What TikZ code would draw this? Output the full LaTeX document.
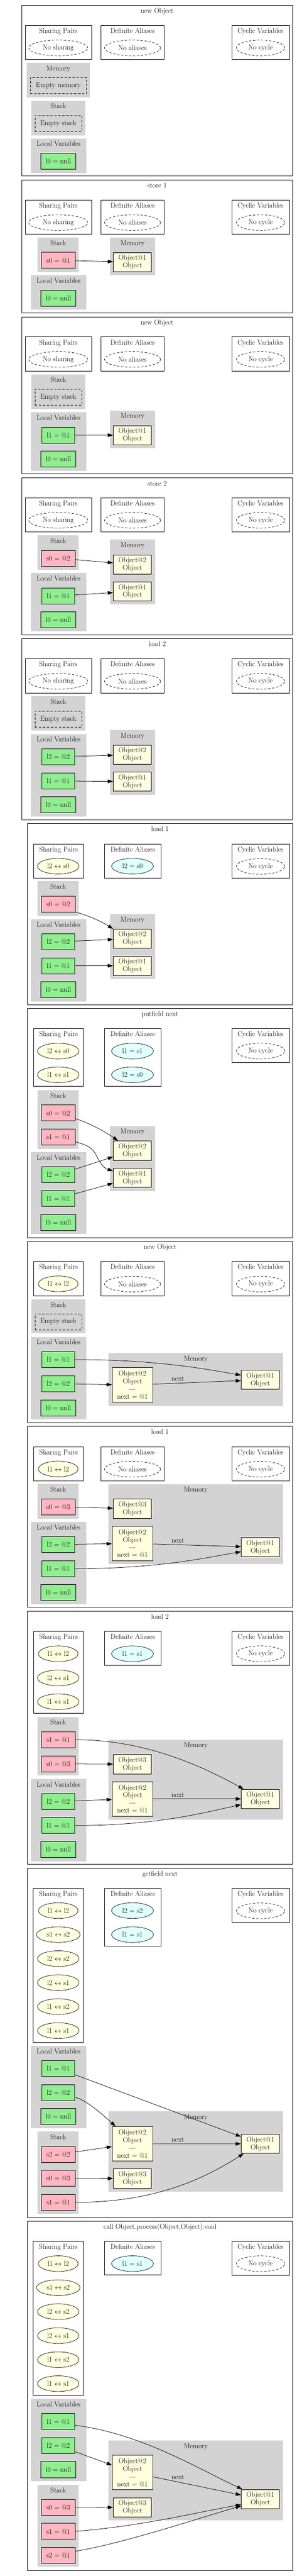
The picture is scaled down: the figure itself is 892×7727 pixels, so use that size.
\documentclass[tikz,border=0pt]{standalone}
\usepackage{fontspec}
\usetikzlibrary{shapes.geometric,arrows.meta}
\definecolor{lgray}{HTML}{D3D3D3}
\definecolor{lgreen}{HTML}{90EE90}
\definecolor{lpink}{HTML}{FFB6C1}
\definecolor{lyel}{HTML}{FFFFE0}
\definecolor{lcyan}{HTML}{E0FFFF}
\tikzset{
  base/.style={font=\fontsize{21.5}{23}\selectfont, inner sep=0pt},
  ttl/.style={base},
  lbl/.style={base},
  frm/.style={draw=black, line width=1.2pt},
  wbox/.style={draw=black, line width=1.2pt},
  gv/.style={base, draw=black, line width=1.2pt, fill=lgreen, minimum width=99, minimum height=48},
  gvn/.style={gv, minimum width=104},
  sv/.style={base, draw=black, line width=1.2pt, fill=lpink, minimum width=102.4, minimum height=48},
  ob/.style={base, draw=black, line width=1.2pt, fill=lyel, minimum width=115, minimum height=57.5, align=center},
  obn/.style={ob, minimum width=122.3, minimum height=103.5},
  shp/.style={base, ellipse, draw=black, line width=1.1pt, fill=lyel, minimum width=125, minimum height=47},
  ali/.style={base, ellipse, draw=black, line width=1.1pt, fill=lcyan, minimum width=125.7, minimum height=47},
  none/.style={base, ellipse, draw=black, line width=1.1pt, dash pattern=on 7pt off 5pt, minimum height=47},
  emp/.style={base, draw=black, line width=1.1pt, dash pattern=on 7pt off 5pt, minimum height=48},
  arr/.style={-{Triangle[length=16pt,width=11pt]}, line width=1.2pt},
}
\newcommand{\pFrame}[5]{%
  \draw[frm] (#2,{#3}) rectangle (880,{#4});
  \node[ttl,anchor=base] (#1) at ({(#2+880)/2},{#3+23.4}) {#5};}
\newcommand{\wBox}[6]{%
  \draw[wbox] (#2,{#3}) rectangle (#4,{#5});
  \node[ttl,anchor=base] (#1) at ({(#2+#4)/2},{#3+23.4}) {#6};}
\newcommand{\gBox}[6]{%
  \fill[lgray] (#2,{#3}) rectangle (#4,{#5});
  \node[ttl,anchor=base] (#1) at ({(#2+#4)/2},{#3+23.4}) {#6};}
\newcommand{\noShare}[2]{%
  \wBox{#1spT}{75.7}{#2}{275}{#2+102.7}{Sharing Pairs}
  \node[none,minimum width=177.7] (#1sp) at (175.2,{#2+67.7}) {No sharing};}
\newcommand{\noAli}[2]{%
  \wBox{#1daT}{304}{#2}{493.3}{#2+102.7}{Definite Aliases}
  \node[none,minimum width=168.7] (#1da) at (398.6,{#2+67.7}) {No aliases};}
\newcommand{\noCyc}[2]{%
  \wBox{#1cvT}{697}{#2}{870}{#2+102.7}{Cyclic Variables}
  \node[none,minimum width=145] (#1cv) at (783.5,{#2+67.7}) {No cycle};}
\newcommand{\lra}{$\leftrightarrow$}
\begin{document}
\begin{tikzpicture}[x=1pt,y=-1pt]
\useasboundingbox (0,0) rectangle (892,7727);

% ---------------- Panel 1
\pFrame{p1t}{65}{15.7}{528}{new Object}
\noShare{p1}{76}\noAli{p1}{76}\noCyc{p1}{76}
\gBox{p1memT}{80.3}{188.7}{270.7}{292.3}{Memory}
\node[emp,minimum width=169] (p1em) at (175.5,256.9) {Empty memory};
\gBox{p1stT}{94.3}{302.3}{256.7}{405.7}{Stack}
\node[emp,minimum width=140.7] (p1es) at (175.3,370.7) {Empty stack};
\gBox{p1lvT}{93}{415.3}{259.3}{519}{Local Variables}
\node[gvn] (p1l0) at (175.3,483.75) {l0 = null};

% ---------------- Panel 2
\pFrame{p2t}{65}{540.2}{938.6}{store 1}
\noShare{p2}{600}\noAli{p2}{600}\noCyc{p2}{600}
\gBox{p2stT}{113.2}{712.7}{237.2}{815.9}{Stack}
\node[sv] (p2s0) at (175.2,780.8) {s0 = @1};
\gBox{p2memT}{330}{712.7}{467}{825}{Memory}
\node[ob] (p2o1) at (398.2,786.3) {Object@1\\Object};
\gBox{p2lvT}{93}{825.7}{259.3}{929.5}{Local Variables}
\node[gvn] (p2l0) at (175.3,894.5) {l0 = null};
\draw[arr] (p2s0) -- (p2o1);

% ---------------- Panel 3
\pFrame{p3t}{65}{950.5}{1421.4}{new Object}
\noShare{p3}{1010.5}\noAli{p3}{1010.5}\noCyc{p3}{1010.5}
\gBox{p3stT}{94.3}{1123.2}{256.7}{1226.8}{Stack}
\node[emp,minimum width=140.7] (p3es) at (175.3,1191.5) {Empty stack};
\gBox{p3lvT}{93}{1236.6}{259.3}{1412.5}{Local Variables}
\node[gv] (p3l1) at (175.2,1305.5) {l1 = @1};
\node[gvn] (p3l0) at (175.3,1377) {l0 = null};
\gBox{p3memT}{330}{1231.25}{467}{1343.75}{Memory}
\node[ob] (p3o1) at (398.2,1305.4) {Object@1\\Object};
\draw[arr] (p3l1) -- (p3o1);

% ---------------- Panel 4
\pFrame{p4t}{65}{1433.9}{1904.5}{store 2}
\noShare{p4}{1493}\noAli{p4}{1493}\noCyc{p4}{1493}
\gBox{p4stT}{113.2}{1606.25}{237.2}{1709}{Stack}
\node[sv] (p4s0) at (175.2,1674.5) {s0 = @2};
\gBox{p4lvT}{93}{1718.75}{259.3}{1893.75}{Local Variables}
\node[gv] (p4l1) at (175.2,1787.5) {l1 = @1};
\node[gvn] (p4l0) at (175.3,1859.4) {l0 = null};
\gBox{p4memT}{330}{1618.75}{467}{1813.4}{Memory}
\node[ob] (p4o2) at (398.2,1693.3) {Object@2\\Object};
\node[ob] (p4o1) at (398.2,1774.1) {Object@1\\Object};
\draw[arr] (p4s0) -- (p4o2);
\draw[arr] (p4l1) -- (p4o1);

% ---------------- Panel 5
\pFrame{p5t}{65}{1916}{2459.8}{load 2}
\noShare{p5}{1976}\noAli{p5}{1976}\noCyc{p5}{1976}
\gBox{p5stT}{94.3}{2088.4}{256.7}{2192}{Stack}
\node[emp,minimum width=140.7] (p5es) at (175.3,2157) {Empty stack};
\gBox{p5lvT}{93}{2201.8}{259.3}{2449}{Local Variables}
\node[gv] (p5l2) at (175.2,2270) {l2 = @2};
\node[gv] (p5l1) at (175.2,2342.4) {l1 = @1};
\node[gvn] (p5l0) at (175.3,2414.2) {l0 = null};
\gBox{p5memT}{330}{2190}{467}{2384}{Memory}
\node[ob] (p5o2) at (398.2,2263.9) {Object@2\\Object};
\node[ob] (p5o1) at (398.2,2344.5) {Object@1\\Object};
\draw[arr] (p5l2) -- (p5o2);
\draw[arr] (p5l1) -- (p5o1);

% ---------------- Panel 6
\pFrame{p6t}{82.5}{2470.5}{3014.3}{load 1}
\wBox{p6spT}{100.7}{2531.25}{251.4}{2634}{Sharing Pairs}
\node[shp] (p6sp1) at (175.2,2598.2) {l2 \lra{} s0};
\wBox{p6daT}{314.6}{2531.25}{484}{2634}{Definite Aliases}
\node[ali] (p6da1) at (398.5,2598.2) {l2 = s0};
\noCyc{p6}{2531.25}
\gBox{p6stT}{113.2}{2642.9}{237.2}{2747.3}{Stack}
\node[sv] (p6s0) at (175.2,2711.6) {s0 = @2};
\gBox{p6lvT}{93}{2757}{259.3}{3004.5}{Local Variables}
\node[gv] (p6l2) at (175.2,2824.6) {l2 = @2};
\node[gv] (p6l1) at (175.2,2896.9) {l1 = @1};
\node[gvn] (p6l0) at (175.3,2968.3) {l0 = null};
\gBox{p6memT}{330}{2742}{467}{2935.7}{Memory}
\node[ob] (p6o2) at (398.2,2815.6) {Object@2\\Object};
\node[ob] (p6o1) at (398.2,2896.9) {Object@1\\Object};
\draw[arr] (p6s0.south east) .. controls +(38,9) and +(-35,-22) .. (p6o2.north west);
\draw[arr] (p6l2) -- (p6o2);
\draw[arr] (p6l1) -- (p6o1);

% ---------------- Panel 7
\pFrame{p7t}{82.5}{3025}{3712.5}{putfield next}
\wBox{p7spT}{100.7}{3084.8}{251.4}{3259}{Sharing Pairs}
\node[shp] (p7sp1) at (175.2,3152.7) {l2 \lra{} s0};
\node[shp] (p7sp2) at (175.2,3224) {l1 \lra{} s1};
\wBox{p7daT}{314.6}{3084.8}{484}{3259}{Definite Aliases}
\node[ali] (p7da1) at (398.5,3152.7) {l1 = s1};
\node[ali] (p7da2) at (398.5,3224) {l2 = s0};
\noCyc{p7}{3084.8}
\gBox{p7stT}{113.2}{3270}{237.2}{3445.5}{Stack}
\node[sv] (p7s0) at (175.2,3338.5) {s0 = @2};
\node[sv] (p7s1) at (175.2,3410) {s1 = @1};
\gBox{p7lvT}{93}{3455.4}{259.3}{3701.8}{Local Variables}
\node[gv] (p7l2) at (175.2,3523.5) {l2 = @2};
\node[gv] (p7l1) at (175.2,3595) {l1 = @1};
\node[gvn] (p7l0) at (175.3,3667.4) {l0 = null};
\gBox{p7memT}{330}{3377.7}{467}{3572.3}{Memory}
\node[ob] (p7o2) at (398.2,3451.3) {Object@2\\Object};
\node[ob] (p7o1) at (398.2,3533) {Object@1\\Object};
\draw[arr] ([yshift=-17pt]p7s0.east) .. controls +(40,12) and +(-35,-25) .. ([xshift=15pt]p7o2.north west);
\draw[arr] ([yshift=-15pt]p7s1.east) .. controls +(35,10) and +(-12,-22) .. (288,3463) .. controls +(12,22) and +(-30,-8) .. ([yshift=21pt]p7o1.west);
\draw[arr] (p7l2) -- (p7o2);
\draw[arr] (p7l1) -- (p7o1);

% ---------------- Panel 8
\pFrame{p8t}{82.5}{3724}{4268}{new Object}
\wBox{p8spT}{100.7}{3784}{251.4}{3886.7}{Sharing Pairs}
\node[shp,minimum width=119.5] (p8sp1) at (175.2,3851) {l1 \lra{} l2};
\noAli{p8}{3784}\noCyc{p8}{3784}
\gBox{p8stT}{94.3}{3897.3}{256.7}{4000}{Stack}
\node[emp,minimum width=140.7] (p8es) at (175.3,3964.7) {Empty stack};
\gBox{p8lvT}{93}{4009.8}{259.3}{4257}{Local Variables}
\node[gv] (p8l1) at (175.2,4078.2) {l1 = @1};
\node[gv] (p8l2) at (175.2,4150.4) {l2 = @2};
\node[gvn] (p8l0) at (175.3,4222.7) {l0 = null};
\gBox{p8memT}{326}{4058}{851.5}{4217}{Memory}
\node[obn] (p8o2) at (398.5,4154.5) {Object@2\\Object\\-{}-{}-\\next = @1};
\node[ob] (p8o1) at (783,4138.9) {Object@1\\Object};
\draw[arr] (p8l1.east) .. controls +(250,0) and +(-100,-17) .. ([yshift=14pt]p8o1.west);
\draw[arr] (p8l2) -- (p8o2);
\draw[arr] (p8o2) -- (p8o1);
\node[lbl] (p8nx) at (534.7,4136.6) {next};

% ---------------- Panel 9
\pFrame{p9t}{82.5}{4278.6}{4821.4}{load 1}
\wBox{p9spT}{100.7}{4339.3}{251.4}{4442}{Sharing Pairs}
\node[shp,minimum width=119.5] (p9sp1) at (175.2,4406.25) {l1 \lra{} l2};
\noAli{p9}{4339.3}\noCyc{p9}{4339.3}
\gBox{p9stT}{113.2}{4451}{237.2}{4555.4}{Stack}
\node[sv] (p9s0) at (175.2,4519.6) {s0 = @3};
\gBox{p9lvT}{93}{4565.2}{259.3}{4812.5}{Local Variables}
\node[gv] (p9l2) at (175.2,4633) {l2 = @2};
\node[gv] (p9l1) at (175.2,4705.4) {l1 = @1};
\node[gvn] (p9l0) at (175.3,4776.9) {l0 = null};
\gBox{p9memT}{326}{4451.8}{851.5}{4692}{Memory}
\node[ob] (p9o3) at (398.2,4525.5) {Object@3\\Object};
\node[obn] (p9o2) at (398.5,4629.5) {Object@2\\Object\\-{}-{}-\\next = @1};
\node[ob] (p9o1) at (783,4641) {Object@1\\Object};
\draw[arr] (p9s0) -- (p9o3);
\draw[arr] (p9l2) -- (p9o2);
\draw[arr] (p9o2) -- (p9o1);
\node[lbl] (p9nx) at (534.7,4621.4) {next};
\draw[arr] (p9l1.east) .. controls +(250,0) and +(-100,17) .. ([yshift=-13.5pt]p9o1.west);

% ---------------- Panel 10
\pFrame{p10t}{82.5}{4833}{5592.5}{load 2}
\wBox{p10spT}{100.7}{4892.9}{251.4}{5138.7}{Sharing Pairs}
\node[shp,minimum width=119.5] (p10sp1) at (175.2,4960.7) {l1 \lra{} l2};
\node[shp] (p10sp2) at (175.2,5033) {l2 \lra{} s1};
\node[shp] (p10sp3) at (175.2,5104.5) {l1 \lra{} s1};
\wBox{p10daT}{314.6}{4892.9}{484}{4995.5}{Definite Aliases}
\node[ali] (p10da1) at (398.5,4960.7) {l1 = s1};
\noCyc{p10}{4892.9}
\gBox{p10stT}{113.2}{5150}{237.2}{5325.6}{Stack}
\node[sv] (p10s1) at (175.2,5218.4) {s1 = @1};
\node[sv] (p10s0) at (175.2,5290.7) {s0 = @3};
\gBox{p10lvT}{93}{5336}{259.3}{5583}{Local Variables}
\node[gv] (p10l2) at (175.2,5403.4) {l2 = @2};
\node[gv] (p10l1) at (175.2,5475.8) {l1 = @1};
\node[gvn] (p10l0) at (175.3,5547.3) {l0 = null};
\gBox{p10memT}{326}{5218}{851.5}{5458}{Memory}
\node[ob] (p10o3) at (398.2,5292) {Object@3\\Object};
\node[obn] (p10o2) at (398.5,5395.8) {Object@2\\Object\\-{}-{}-\\next = @1};
\node[ob] (p10o1) at (783,5395.8) {Object@1\\Object};
\draw[arr] (p10s1.east) .. controls +(220,0) and +(-110,-60) .. ([xshift=8pt]p10o1.north west);
\draw[arr] (p10s0) -- (p10o3);
\draw[arr] (p10l2) -- (p10o2);
\draw[arr] (p10o2) -- (p10o1);
\node[lbl] (p10nx) at (534.7,5385) {next};
\draw[arr] (p10l1.east) .. controls +(250,0) and +(-110,23) .. ([yshift=-17.6pt]p10o1.west);

% ---------------- Panel 11
\pFrame{p11t}{82.5}{5603.7}{6651.4}{getfield next}
\wBox{p11spT}{99}{5664}{251.4}{6126.3}{Sharing Pairs}
\node[shp,minimum width=119.5] (p11sp1) at (175.2,5731) {l1 \lra{} l2};
\node[shp,minimum width=131] (p11sp2) at (175.2,5803) {s1 \lra{} s2};
\node[shp] (p11sp3) at (175.2,5875) {l2 \lra{} s2};
\node[shp] (p11sp4) at (175.2,5947) {l2 \lra{} s1};
\node[shp] (p11sp5) at (175.2,6019) {l1 \lra{} s2};
\node[shp] (p11sp6) at (175.2,6091) {l1 \lra{} s1};
\wBox{p11daT}{314.6}{5664}{484}{5837.8}{Definite Aliases}
\node[ali] (p11da1) at (398.5,5731) {l2 = s2};
\node[ali] (p11da2) at (398.5,5803) {l1 = s1};
\noCyc{p11}{5664}
\gBox{p11lvT}{93}{6136.6}{259.3}{6384.6}{Local Variables}
\node[gv] (p11l1) at (175.2,6204.6) {l1 = @1};
\node[gv] (p11l2) at (175.2,6276.8) {l2 = @2};
\node[gvn] (p11l0) at (175.3,6348.8) {l0 = null};
\gBox{p11stT}{113.2}{6394}{237.2}{6641.2}{Stack}
\node[sv] (p11s2) at (175.2,6462.2) {s2 = @2};
\node[sv] (p11s0) at (175.2,6534.2) {s0 = @3};
\node[sv] (p11s1) at (175.2,6606.1) {s1 = @1};
\gBox{p11memT}{326}{6333.7}{851.5}{6574.3}{Memory}
\node[obn] (p11o2) at (398.5,6430.3) {Object@2\\Object\\-{}-{}-\\next = @1};
\node[ob] (p11o1) at (783,6430.5) {Object@1\\Object};
\node[ob] (p11o3) at (398.2,6534.6) {Object@3\\Object};
\draw[arr] (p11l1) -- (p11o1);
\draw[arr] ([yshift=-14pt]p11l2.east) .. controls +(40,10) and +(-25,-22) .. ([xshift=11pt]p11o2.north west);
\draw[arr] (p11s2) -- (p11o2);
\draw[arr] (p11s0) -- (p11o3);
\draw[arr] (p11s1.east) .. controls +(250,0) and +(-110,69) .. ([xshift=8pt]p11o1.south west);
\draw[arr] (p11o2) -- (p11o1);
\node[lbl] (p11nx) at (534.7,6418.6) {next};

% ---------------- Panel 12
\pFrame{p12t}{82.5}{6663.2}{7710}{call Object.process(Object,Object):void}
\wBox{p12spT}{99}{6722.4}{251.4}{7184.5}{Sharing Pairs}
\node[shp,minimum width=119.5] (p12sp1) at (175.2,6790) {l1 \lra{} l2};
\node[shp,minimum width=131] (p12sp2) at (175.2,6862) {s1 \lra{} s2};
\node[shp] (p12sp3) at (175.2,6934) {l2 \lra{} s2};
\node[shp] (p12sp4) at (175.2,7006) {l2 \lra{} s1};
\node[shp] (p12sp5) at (175.2,7078) {l1 \lra{} s2};
\node[shp] (p12sp6) at (175.2,7150) {l1 \lra{} s1};
\wBox{p12daT}{314.6}{6722.4}{484}{6824}{Definite Aliases}
\node[ali] (p12da1) at (398.5,6790) {l1 = s1};
\noCyc{p12}{6722.4}
\gBox{p12lvT}{93}{7195.5}{259.3}{7442.6}{Local Variables}
\node[gv] (p12l1) at (175.2,7263.7) {l1 = @1};
\node[gv] (p12l2) at (175.2,7335.6) {l2 = @2};
\node[gvn] (p12l0) at (175.3,7407.6) {l0 = null};
\gBox{p12stT}{113.2}{7453.6}{237.2}{7699}{Stack}
\node[sv] (p12s0) at (175.2,7521.4) {s0 = @3};
\node[sv] (p12s1) at (175.2,7592.8) {s1 = @1};
\node[sv] (p12s2) at (175.2,7664.8) {s2 = @1};
\gBox{p12memT}{326}{7320.8}{851.5}{7559.4}{Memory}
\node[obn] (p12o2) at (398.5,7416.8) {Object@2\\Object\\-{}-{}-\\next = @1};
\node[ob] (p12o3) at (398.2,7521) {Object@3\\Object};
\node[ob] (p12o1) at (783,7496) {Object@1\\Object};
\draw[arr] ([yshift=-11pt]p12l1.east) .. controls +(200,25) and +(-130,-60) .. ([xshift=4pt]p12o1.north west);
\draw[arr] (p12l2) -- (p12o2);
\draw[arr] (p12o2) -- (p12o1);
\node[lbl] (p12nx) at (534.7,7430.8) {next};
\draw[arr] (p12s0) -- (p12o3);
\draw[arr] (p12s1.east) .. controls +(200,-15) and +(-120,20) .. ([yshift=-17pt]p12o1.west);
\draw[arr] ([yshift=12pt]p12s2.east) .. controls +(150,-25) and +(-100,28) .. ([yshift=-21pt]p12o1.west);
\end{tikzpicture}
\end{document}
